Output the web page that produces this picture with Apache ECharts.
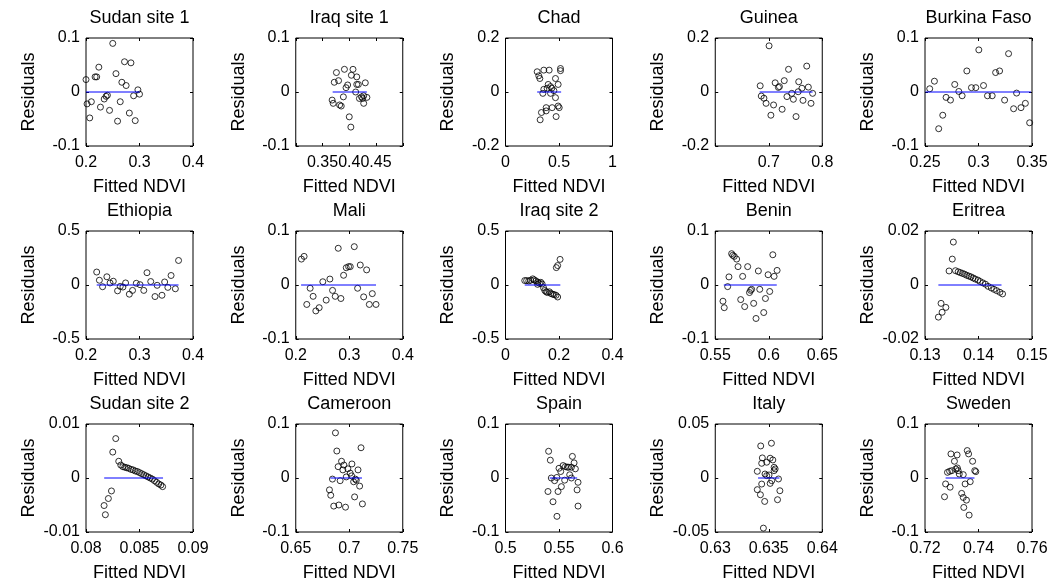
<!DOCTYPE html>
<html>
<head>
<meta charset="utf-8">
<script src="https://cdn.jsdelivr.net/npm/echarts@6.0.0/dist/echarts.min.js"></script>
<style>
  html, body { margin: 0; padding: 0; background: #fff; }
  #chart { width: 1048px; height: 583px; }
</style>
</head>
<body>
<div id="chart"></div>
<script>
// panel titles, row by row
const panelNames = ['Sudan site 1', 'Iraq site 1', 'Chad', 'Guinea', 'Burkina Faso',
  'Ethiopia', 'Mali', 'Iraq site 2', 'Benin', 'Eritrea',
  'Sudan site 2', 'Cameroon', 'Spain', 'Italy', 'Sweden'];

// x axis limits / tick step / labelled ticks
const xMin = [0.2, 0.3, 0, 0.6, 0.25, 0.2, 0.2, 0, 0.55, 0.13, 0.08, 0.65, 0.5, 0.63, 0.72];
const xMax = [0.4, 0.5, 1, 0.8, 0.35, 0.4, 0.4, 0.4, 0.65, 0.15, 0.09, 0.75, 0.6, 0.64, 0.76];
const xStep = [0.1, 0.05, 0.5, 0.1, 0.05, 0.1, 0.1, 0.2, 0.05, 0.01, 0.005, 0.05, 0.05, 0.005, 0.02];
const xTickLabels = [
  [0.2, 0.3, 0.4], [0.35, 0.4, 0.45], [0, 0.5, 1], [0.7, 0.8], [0.25, 0.3, 0.35],
  [0.2, 0.3, 0.4], [0.2, 0.3, 0.4], [0, 0.2, 0.4], [0.55, 0.6, 0.65], [0.13, 0.14, 0.15],
  [0.08, 0.085, 0.09], [0.65, 0.7, 0.75], [0.5, 0.55, 0.6], [0.63, 0.635, 0.64], [0.72, 0.74, 0.76]
];
// residual axis is symmetric: -yLim .. 0 .. yLim
const yLim = [0.1, 0.1, 0.2, 0.2, 0.1, 0.5, 0.1, 0.5, 0.1, 0.02, 0.01, 0.1, 0.1, 0.05, 0.1];

// extent of the blue zero line (fitted NDVI range)
const fitRange = [
  [0.2, 0.3], [0.369, 0.433], [0.296, 0.52], [0.683, 0.782], [0.2505, 0.349],
  [0.22, 0.373], [0.21, 0.35], [0.072, 0.205], [0.558, 0.6075], [0.1325, 0.1443],
  [0.0817, 0.0872], [0.6824, 0.7119], [0.5413, 0.567], [0.634, 0.636], [0.7277, 0.7385]
];

// residuals [fitted NDVI, residual]
const sudan1 = [[0.200,0.023],[0.250,0.090],[0.224,0.046],[0.217,0.028],[0.220,0.028],[0.202,-0.022],[0.210,-0.018],[0.207,-0.048],[0.227,-0.028],[0.234,-0.013],[0.2375,-0.008],[0.240,-0.006],[0.244,-0.034],[0.256,0.034],[0.259,-0.054],[0.264,-0.018],[0.267,0.018],[0.275,0.012],[0.272,0.056],[0.284,0.054],[0.281,-0.039],[0.292,-0.053],[0.289,-0.007],[0.297,0.004],[0.300,-0.004]];
const iraq1 = [[0.376,0.036],[0.391,0.042],[0.407,0.042],[0.404,0.031],[0.414,0.028],[0.372,0.018],[0.380,0.021],[0.430,0.017],[0.414,0.014],[0.417,0.014],[0.397,0.013],[0.394,0.008],[0.412,0.000],[0.389,-0.009],[0.368,-0.015],[0.370,-0.021],[0.382,-0.024],[0.385,-0.026],[0.419,-0.012],[0.423,-0.009],[0.427,-0.007],[0.433,-0.010],[0.427,-0.021],[0.400,-0.046],[0.403,-0.065],[0.425,-0.012]];
const chad = [[0.296,0.075],[0.311,0.060],[0.321,0.050],[0.358,0.081],[0.408,0.081],[0.514,0.087],[0.514,0.079],[0.467,0.050],[0.399,0.028],[0.492,0.028],[0.421,0.020],[0.389,0.014],[0.433,0.014],[0.452,0.005],[0.358,0.010],[0.349,-0.005],[0.421,-0.005],[0.467,-0.021],[0.380,-0.058],[0.436,-0.058],[0.492,-0.052],[0.502,-0.058],[0.336,-0.076],[0.380,-0.070],[0.473,-0.091],[0.324,-0.103]];
const guinea = [[0.7006,0.171],[0.684,0.023],[0.686,-0.015],[0.691,-0.023],[0.695,-0.042],[0.709,-0.048],[0.704,-0.086],[0.712,0.034],[0.718,0.017],[0.720,0.020],[0.729,0.042],[0.725,-0.064],[0.737,0.084],[0.734,-0.017],[0.743,-0.005],[0.746,-0.027],[0.756,0.038],[0.755,0.001],[0.751,-0.091],[0.762,0.014],[0.764,-0.031],[0.771,0.096],[0.774,0.018],[0.779,-0.042],[0.782,-0.005]];
const burkinaFaso = [[0.2544,0.006],[0.2588,0.020],[0.2628,-0.068],[0.2666,-0.043],[0.2697,-0.010],[0.2738,-0.015],[0.2778,0.014],[0.2816,0.001],[0.2847,-0.007],[0.2891,0.039],[0.2934,0.008],[0.2975,0.008],[0.3003,0.078],[0.3047,0.012],[0.3084,-0.007],[0.3128,-0.007],[0.3160,0.036],[0.3197,0.039],[0.3244,-0.015],[0.3281,0.071],[0.3328,-0.031],[0.3356,-0.002],[0.3397,-0.029],[0.3438,-0.021],[0.3478,-0.057]];
const ethiopia = [[0.220,0.120],[0.225,0.044],[0.231,-0.016],[0.239,0.076],[0.245,0.019],[0.251,0.035],[0.259,-0.054],[0.264,-0.013],[0.269,-0.019],[0.274,0.019],[0.281,-0.085],[0.287,-0.050],[0.294,0.016],[0.301,0.003],[0.308,-0.050],[0.314,0.114],[0.321,0.032],[0.329,-0.107],[0.333,-0.003],[0.342,-0.095],[0.347,0.028],[0.353,-0.022],[0.359,0.088],[0.367,-0.035],[0.373,0.227]];
const mali = [[0.2106,0.048],[0.2156,0.053],[0.2206,-0.036],[0.2269,-0.006],[0.2325,-0.021],[0.2375,-0.048],[0.2438,-0.042],[0.2506,0.006],[0.2569,-0.028],[0.2638,0.011],[0.2688,-0.010],[0.2738,-0.021],[0.2794,0.068],[0.2844,-0.025],[0.2894,0.018],[0.2944,0.032],[0.2988,0.034],[0.3019,0.034],[0.3094,0.071],[0.3156,-0.006],[0.3206,0.037],[0.3269,-0.022],[0.3325,0.028],[0.3375,-0.036],[0.3431,-0.016],[0.3500,-0.036]];
const iraq2 = [[0.072,0.041],[0.079,0.041],[0.087,0.038],[0.094,0.044],[0.102,0.057],[0.107,0.047],[0.114,0.038],[0.120,0.006],[0.121,0.025],[0.127,0.016],[0.132,0.025],[0.137,0.009],[0.142,-0.025],[0.147,-0.051],[0.152,-0.063],[0.157,-0.070],[0.164,-0.063],[0.170,-0.079],[0.176,-0.085],[0.182,-0.089],[0.189,-0.095],[0.195,-0.111],[0.190,0.161],[0.195,0.180],[0.204,0.237]];
const benin = [[0.5572,-0.030],[0.5584,-0.042],[0.5616,-0.003],[0.5628,0.015],[0.5653,0.058],[0.5663,0.055],[0.5678,0.053],[0.5700,0.048],[0.5713,0.034],[0.5738,-0.027],[0.5756,0.016],[0.5775,-0.040],[0.5803,0.034],[0.5820,-0.014],[0.5830,-0.010],[0.5840,-0.008],[0.5859,-0.034],[0.5881,-0.062],[0.5903,0.026],[0.5916,-0.008],[0.5953,-0.051],[0.5969,-0.025],[0.5994,0.019],[0.6009,-0.012],[0.6038,0.056],[0.6050,0.016],[0.6078,0.027]];
const eritrea = [[0.1325,-0.0119],[0.1330,-0.0068],[0.1332,-0.0101],[0.1339,-0.0083],[0.1345,0.0052],[0.1351,0.0096],[0.1353,0.0159],[0.1357,0.0053],[0.1362,0.0049],[0.1366,0.0046],[0.1370,0.0043],[0.1374,0.0040],[0.1378,0.0036],[0.1382,0.0033],[0.1386,0.0030],[0.1390,0.0026],[0.1394,0.0022],[0.1399,0.0018],[0.1403,0.0013],[0.1408,0.0008],[0.1413,0.0003],[0.1418,-0.0005],[0.1424,-0.0011],[0.1429,-0.0016],[0.1434,-0.0021],[0.1440,-0.0027],[0.1445,-0.0033]];
const sudan2 = [[0.08169,-0.0051],[0.08181,-0.0068],[0.08209,-0.0038],[0.08238,-0.0024],[0.0825,0.0048],[0.08278,0.0073],[0.08306,0.0031],[0.08325,0.0024],[0.08344,0.0021],[0.08362,0.0020],[0.0838,0.0019],[0.08398,0.0018],[0.0842,0.0016],[0.0844,0.0015],[0.0846,0.0013],[0.0848,0.0012],[0.085,0.0010],[0.0852,0.0008],[0.0854,0.0006],[0.0856,0.0004],[0.0858,0.0002],[0.086,0.0000],[0.0862,-0.0002],[0.0864,-0.0005],[0.0866,-0.0008],[0.0868,-0.0011],[0.0870,-0.0013],[0.08716,-0.0016]];
const cameroon = [[0.6871,0.0836],[0.6884,0.050],[0.7110,0.056],[0.6928,0.031],[0.6896,0.021],[0.6950,0.024],[0.7025,0.026],[0.6940,0.015],[0.6987,0.017],[0.7082,0.015],[0.7009,0.009],[0.6972,0.002],[0.7022,0.004],[0.6843,-0.002],[0.6915,-0.005],[0.7041,-0.007],[0.7057,-0.002],[0.7066,-0.004],[0.7097,-0.015],[0.6815,-0.022],[0.6827,-0.032],[0.7050,-0.035],[0.6855,-0.052],[0.6903,-0.050],[0.6965,-0.054],[0.7123,-0.048]];
const spain = [[0.5403,0.0495],[0.5419,0.033],[0.5625,0.040],[0.5641,0.028],[0.5500,0.018],[0.5538,0.023],[0.5559,0.021],[0.5578,0.020],[0.5591,0.020],[0.5616,0.020],[0.5653,0.017],[0.5516,0.012],[0.5600,0.006],[0.5428,0.000],[0.5459,-0.005],[0.5480,0.001],[0.5553,-0.004],[0.5616,0.000],[0.5678,-0.008],[0.5522,-0.016],[0.5397,-0.025],[0.5491,-0.025],[0.5669,-0.022],[0.5444,-0.044],[0.5678,-0.052],[0.5481,-0.071]];
const italy = [[0.63425,0.0297],[0.63525,0.0322],[0.6344,0.0186],[0.63513,0.0183],[0.63538,0.0167],[0.63434,0.0136],[0.63481,0.0146],[0.6355,0.0099],[0.6356,0.0084],[0.6355,0.0068],[0.63393,0.0062],[0.63465,0.0037],[0.63481,0.0022],[0.63503,0.0028],[0.63591,-0.0009],[0.63528,-0.0025],[0.63513,-0.005],[0.63434,-0.0056],[0.63393,-0.0108],[0.63604,-0.0118],[0.63422,-0.0155],[0.63582,-0.0201],[0.63462,-0.0217],[0.6345,-0.0464]];
const sweden = [[0.7297,0.0446],[0.7320,0.0427],[0.7310,0.031],[0.7358,0.0508],[0.7363,0.0446],[0.7378,0.031],[0.7386,0.0136],[0.7390,0.0118],[0.7284,0.0105],[0.7292,0.0124],[0.7300,0.0136],[0.7315,0.0167],[0.7321,0.0186],[0.7324,0.0136],[0.7328,0.0074],[0.7343,0.0062],[0.7277,-0.011],[0.7294,-0.017],[0.7350,-0.011],[0.7369,-0.0068],[0.7337,-0.0285],[0.7273,-0.0347],[0.7343,-0.036],[0.7355,-0.041],[0.7345,-0.0545],[0.7365,-0.0687]];

const residuals = [sudan1, iraq1, chad, guinea, burkinaFaso,
  ethiopia, mali, iraq2, benin, eritrea,
  sudan2, cameroon, spain, italy, sweden];

// layout of the 3 x 5 subplot grid
const colLeft = [86, 295.75, 505.5, 715.25, 925];
const rowTop = [38, 231, 424];
const plotW = 107, plotH = 108;
const FONT = '"Liberation Sans", Arial, sans-serif';

const grids = [], titles = [], xAxes = [], yAxes = [], series = [];

panelNames.forEach((name, i) => {
  const left = colLeft[i % 5], top = rowTop[Math.floor(i / 5)];
  grids.push({
    left: left, top: top, width: plotW, height: plotH,
    show: true, borderColor: '#000', borderWidth: 1, backgroundColor: 'transparent',
    containLabel: false, outerBoundsMode: 'none'
  });
  titles.push({
    text: name, left: left + plotW / 2, top: top - 29, textAlign: 'center', padding: 0,
    textStyle: { fontSize: 18, fontWeight: 'normal', color: '#000', fontFamily: FONT }
  });

  const tick = { show: true, inside: true, length: 3, lineStyle: { color: '#000', width: 1 } };
  // bottom axis with labels, top axis only carries ticks
  xAxes.push({
    type: 'value', gridIndex: i, position: 'bottom',
    min: xMin[i], max: xMax[i], interval: xStep[i],
    axisLine: { show: false, onZero: false }, axisTick: tick, splitLine: { show: false },
    axisLabel: {
      show: true, margin: 9, color: '#000', fontSize: 16, fontFamily: FONT,
      hideOverlap: false, showMinLabel: true, showMaxLabel: true,
      formatter: function (v) {
        const t = xTickLabels[i].find(t => Math.abs(t - v) < 1e-9);
        return t === undefined ? '' : String(t);
      }
    },
    name: 'Fitted NDVI', nameLocation: 'middle', nameGap: 32,
    nameTextStyle: { fontSize: 18, color: '#000', fontFamily: FONT }
  });
  xAxes.push({
    type: 'value', gridIndex: i, position: 'top',
    min: xMin[i], max: xMax[i], interval: xStep[i],
    axisLine: { show: false, onZero: false }, axisTick: tick, splitLine: { show: false },
    axisLabel: { show: false }
  });
  yAxes.push({
    type: 'value', gridIndex: i, position: 'left',
    min: -yLim[i], max: yLim[i], interval: yLim[i],
    axisLine: { show: false, onZero: false }, axisTick: tick, splitLine: { show: false },
    axisLabel: { show: true, margin: 6, color: '#000', fontSize: 16, fontFamily: FONT,
      showMinLabel: true, showMaxLabel: true },
    name: 'Residuals', nameLocation: 'middle', nameGap: 48,
    nameTextStyle: { fontSize: 18, color: '#000', fontFamily: FONT }
  });
  yAxes.push({
    type: 'value', gridIndex: i, position: 'right',
    min: -yLim[i], max: yLim[i], interval: yLim[i],
    axisLine: { show: false, onZero: false }, axisTick: tick, splitLine: { show: false },
    axisLabel: { show: false }
  });

  series.push({
    type: 'scatter', xAxisIndex: 2 * i, yAxisIndex: 2 * i,
    data: residuals[i], symbol: 'circle', symbolSize: 6, silent: true,
    itemStyle: { color: 'transparent', borderColor: '#000', borderWidth: 1 }
  });
  series.push({
    type: 'line', xAxisIndex: 2 * i, yAxisIndex: 2 * i,
    data: [[fitRange[i][0], 0], [fitRange[i][1], 0]],
    symbol: 'none', silent: true, z: 3,
    lineStyle: { color: '#0000ff', width: 1 }
  });
});

const chart = echarts.init(document.getElementById('chart'), null, { renderer: 'canvas' });
chart.setOption({
  animation: false,
  backgroundColor: '#fff',
  title: titles,
  grid: grids,
  xAxis: xAxes,
  yAxis: yAxes,
  series: series
});
</script>
</body>
</html>
